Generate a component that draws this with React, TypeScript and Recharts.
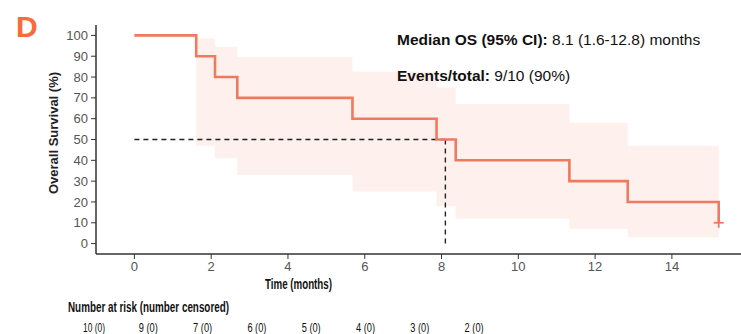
import React from "react";
import {
  ComposedChart,
  Line,
  Area,
  Scatter,
  XAxis,
  YAxis,
  ReferenceLine,
} from "recharts";

// Kaplan-Meier step points (time in months, survival %)
const times = [0, 1.61, 2.1, 2.68, 5.68, 7.87, 8.37, 11.33, 12.85, 15.22];
const survival = [100, 90, 80, 70, 60, 50, 40, 30, 20, 10];
const ciLow = [100, 47, 41, 33, 25, 18, 12, 7, 3, 3];
const ciHigh = [100, 98.5, 94.5, 89.5, 82.5, 75, 67, 58, 47, 47];

const censorTimes = [15.22];
const censorSurv = [10];

const xTicks = [0, 2, 4, 6, 8, 10, 12, 14];
const yTicks = [0, 10, 20, 30, 40, 50, 60, 70, 80, 90, 100];

const riskLabels = ["10 (0)", "9 (0)", "7 (0)", "6 (0)", "5 (0)", "4 (0)", "3 (0)", "2 (0)"];

const medianTime = 8.1;

const LINE = "#EE7A5F";
const BAND = "#FEF0EC";
const FONT = "'Liberation Sans', Arial, sans-serif";

const kmData = times.map((t, i) => ({
  t,
  s: survival[i],
  ci: [ciLow[i], ciHigh[i]],
}));

const censorData = censorTimes.map((t, i) => ({ t, c: censorSurv[i] }));

const Cross = (props: any) => {
  const { cx, cy } = props;
  return (
    <g stroke={LINE} strokeWidth={1.8}>
      <line x1={cx - 5} y1={cy} x2={cx + 5} y2={cy} />
      <line x1={cx} y1={cy - 5} x2={cx} y2={cy + 5} />
    </g>
  );
};

export default function App() {
  const tickStyle = { fill: "#555", fontSize: 13, fontFamily: FONT };
  return (
    <div style={{ position: "absolute", left: 0, top: 0, width: 741, height: 334, background: "#fff" }}>
      <ComposedChart
        width={741}
        height={334}
        data={kmData}
        margin={{ top: 25, right: 0, bottom: 50, left: 36 }}
      >
        <XAxis
          dataKey="t"
          type="number"
          domain={[-1, 15.8]}
          ticks={xTicks}
          interval={0}
          tick={tickStyle}
          tickSize={5}
          tickMargin={3}
          height={30}
          axisLine={{ stroke: "#333", strokeWidth: 1.5 }}
          tickLine={{ stroke: "#333" }}
          allowDataOverflow
        />
        <YAxis
          type="number"
          domain={[-5, 105]}
          ticks={yTicks}
          interval={0}
          tick={tickStyle}
          tickSize={5}
          tickMargin={3}
          width={60}
          axisLine={{ stroke: "#333", strokeWidth: 1.5 }}
          tickLine={{ stroke: "#333" }}
          allowDataOverflow
        />
        <Area
          dataKey="ci"
          type="stepAfter"
          stroke="none"
          fill={BAND}
          fillOpacity={1}
          isAnimationActive={false}
        />
        <ReferenceLine
          segment={[{ x: 0, y: 50 }, { x: medianTime, y: 50 }]}
          stroke="#222"
          strokeWidth={1.4}
          strokeDasharray="5 4"
        />
        <ReferenceLine
          segment={[{ x: medianTime, y: 50 }, { x: medianTime, y: 0 }]}
          stroke="#222"
          strokeWidth={1.4}
          strokeDasharray="5 4"
        />
        <Line
          dataKey="s"
          type="stepAfter"
          stroke={LINE}
          strokeWidth={2.6}
          dot={false}
          isAnimationActive={false}
        />
        <Scatter
          data={censorData}
          dataKey="c"
          shape={<Cross />}
          isAnimationActive={false}
        />
      </ComposedChart>
      <svg
        width={741}
        height={334}
        style={{ position: "absolute", left: 0, top: 0, pointerEvents: "none" }}
        fontFamily={FONT}
      >
        <text x={16} y={37} fontSize={30} fontWeight="bold" fill="#FA6A3A">D</text>
        <text
          x={58}
          y={133}
          fontSize={13}
          fontWeight="bold"
          fill="#222"
          textAnchor="middle"
          transform="rotate(-90 58 133)"
        >
          Overall Survival (%)
        </text>
        <text x={397} y={45} fontSize={15.5} fill="#111">
          <tspan fontWeight="bold">Median OS (95% CI):</tspan>
          <tspan> 8.1 (1.6-12.8) months</tspan>
        </text>
        <text x={397} y={81} fontSize={15.5} fill="#111">
          <tspan fontWeight="bold">Events/total:</tspan>
          <tspan> 9/10 (90%)</tspan>
        </text>
        <text
          x={265}
          y={289}
          fontSize={14}
          fontWeight="bold"
          fill="#111"
          textLength={67}
          lengthAdjust="spacingAndGlyphs"
        >
          Time (months)
        </text>
        <text
          x={68}
          y={312}
          fontSize={14}
          fontWeight="bold"
          fill="#111"
          textLength={161}
          lengthAdjust="spacingAndGlyphs"
        >
          Number at risk (number censored)
        </text>
        {riskLabels.map((r, i) => (
          <text
            key={r}
            x={94 + i * 54.3 - (i === 0 ? 11 : 9.5)}
            y={332}
            fontSize={12.5}
            fill="#111"
            textLength={i === 0 ? 22 : 19}
            lengthAdjust="spacingAndGlyphs"
          >
            {r}
          </text>
        ))}
      </svg>
    </div>
  );
}
